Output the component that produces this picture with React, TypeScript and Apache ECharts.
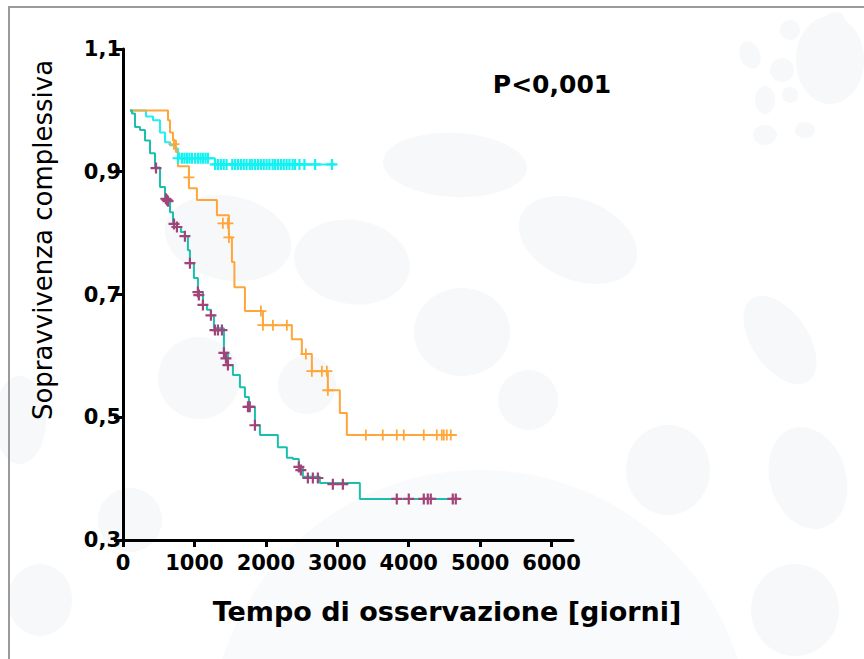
import React, { useEffect, useRef } from "react";
import * as echarts from "echarts";

// Tick labels
const xTicks = [0, 1000, 2000, 3000, 4000, 5000, 6000];
const yTicks = [0.3, 0.5, 0.7, 0.9, 1.1];

// Kaplan-Meier curves: [time (days), survival]
const cyanCurve = [
  [98, 1.0], [322, 0.99], [420, 0.984], [518, 0.964], [588, 0.948], [658, 0.943],
  [727, 0.938], [769, 0.93], [790, 0.922], [1287, 0.912], [2966, 0.912],
];
const orangeCurve = [
  [98, 1.0], [630, 0.984], [658, 0.964], [700, 0.951], [741, 0.932], [769, 0.909],
  [923, 0.873], [1035, 0.854], [1315, 0.829], [1483, 0.793], [1525, 0.753],
  [1560, 0.712], [1707, 0.673], [1959, 0.65], [2364, 0.627], [2504, 0.603],
  [2644, 0.575], [2868, 0.544], [3036, 0.507], [3134, 0.471], [4673, 0.471],
];
const tealCurve = [
  [98, 1.0], [126, 0.995], [168, 0.973], [238, 0.968], [308, 0.951], [378, 0.93],
  [448, 0.907], [518, 0.875], [588, 0.855], [658, 0.834], [700, 0.815], [755, 0.81],
  [811, 0.802], [867, 0.795], [909, 0.772], [937, 0.751], [993, 0.727], [1049, 0.704],
  [1119, 0.683], [1175, 0.675], [1231, 0.666], [1273, 0.645], [1413, 0.605],
  [1469, 0.585], [1539, 0.569], [1637, 0.549], [1707, 0.533], [1763, 0.517],
  [1847, 0.487], [1917, 0.471], [2168, 0.451], [2294, 0.434], [2378, 0.432],
  [2462, 0.419], [2518, 0.403], [2756, 0.393], [3316, 0.367], [4715, 0.367],
];

// Censored observations
const cyanCensorUpperTimes = [770, 825, 860, 895, 930, 965, 1010, 1049, 1085, 1119, 1155, 1189];
const cyanCensorUpperValue = 0.922;
const cyanCensorLowerTimes = [
  1290, 1330, 1370, 1410, 1450, 1530, 1570, 1610, 1650, 1690, 1730, 1775, 1810, 1850,
  1890, 1930, 1970, 2010, 2050, 2095, 2130, 2170, 2210, 2250, 2290, 2330, 2375, 2410,
  2470, 2540, 2690, 2925,
];
const cyanCensorLowerValue = 0.912;
const orangeCensor = [
  [713, 0.945], [923, 0.891], [1399, 0.816], [1469, 0.816], [1483, 0.793], [1931, 0.673],
  [1959, 0.65], [2099, 0.65], [2294, 0.65], [2560, 0.603], [2644, 0.575], [2784, 0.575],
  [2854, 0.575], [2868, 0.544], [3400, 0.471], [3637, 0.471], [3833, 0.471],
  [3931, 0.471], [4211, 0.471], [4393, 0.471], [4463, 0.471], [4491, 0.471],
  [4533, 0.471], [4589, 0.471],
];
const purpleCensor = [
  [462, 0.906], [600, 0.856], [616, 0.854], [630, 0.852], [714, 0.815], [755, 0.81],
  [867, 0.795], [937, 0.751], [1049, 0.704], [1062, 0.699], [1119, 0.683], [1231, 0.666],
  [1287, 0.642], [1329, 0.642], [1385, 0.642], [1413, 0.605], [1441, 0.596],
  [1469, 0.585], [1750, 0.517], [1775, 0.517], [1847, 0.487], [2462, 0.419],
  [2490, 0.414], [2588, 0.401], [2658, 0.401], [2728, 0.401], [2938, 0.391],
  [3078, 0.391], [3833, 0.367], [4001, 0.367], [4211, 0.367], [4267, 0.367],
  [4309, 0.367], [4617, 0.367], [4659, 0.367],
];

const FONT = "'DejaVu Sans', Verdana, sans-serif";
const PLUS_THICK = "path://M4,0H6V4H10V6H6V10H4V6H0V4H4Z";
const PLUS_THIN = "path://M4.2,0H5.8V4.2H10V5.8H5.8V10H4.2V5.8H0V4.2H4.2Z";

const bgFill = "#f7f8f9";
const bgEllipses = [
  { cx: 228, cy: 238, rx: 64, ry: 42, r: -0.2 },
  { cx: 352, cy: 262, rx: 58, ry: 42, r: -0.15 },
  { cx: 455, cy: 165, rx: 72, ry: 32, r: -0.05 },
  { cx: 578, cy: 240, rx: 62, ry: 40, r: -0.4 },
  { cx: 462, cy: 332, rx: 48, ry: 44, r: 0 },
  { cx: 199, cy: 378, rx: 41, ry: 41, r: 0 },
  { cx: 307, cy: 385, rx: 29, ry: 29, r: 0 },
  { cx: 528, cy: 400, rx: 30, ry: 30, r: 0 },
  { cx: 668, cy: 470, rx: 42, ry: 45, r: 0 },
  { cx: 130, cy: 520, rx: 32, ry: 32, r: 0 },
  { cx: 40, cy: 600, rx: 32, ry: 36, r: 0 },
  { cx: 780, cy: 340, rx: 28, ry: 50, r: 0.6 },
  { cx: 808, cy: 478, rx: 38, ry: 52, r: 0.3 },
  { cx: 795, cy: 610, rx: 44, ry: 46, r: 0 },
  { cx: 20, cy: 420, rx: 26, ry: 44, r: 0 },
  { cx: 830, cy: 60, rx: 34, ry: 44, r: 0 },
  { cx: 790, cy: 30, rx: 10, ry: 10, r: 0 },
  { cx: 808, cy: 55, rx: 9, ry: 8, r: 0 },
  { cx: 782, cy: 70, rx: 12, ry: 12, r: 0 },
  { cx: 765, cy: 100, rx: 10, ry: 14, r: 0 },
  { cx: 790, cy: 95, rx: 8, ry: 8, r: 0 },
  { cx: 750, cy: 55, rx: 10, ry: 14, r: 0.4 },
  { cx: 765, cy: 135, rx: 12, ry: 10, r: 0 },
  { cx: 805, cy: 130, rx: 10, ry: 8, r: 0 },
  { cx: 835, cy: 20, rx: 10, ry: 8, r: 0 },
];

export default function App() {
  const ref = useRef<HTMLDivElement>(null);

  useEffect(() => {
    if (!ref.current) return;
    const chart = echarts.init(ref.current, null, { renderer: "svg" });

    const graphics: any[] = bgEllipses.map((e) => ({
      type: "ellipse",
      z: -10,
      x: e.cx,
      y: e.cy,
      rotation: e.r,
      shape: { cx: 0, cy: 0, rx: e.rx, ry: e.ry },
      style: { fill: bgFill },
      silent: true,
    }));
    graphics.push({
      type: "circle",
      z: -11,
      shape: { cx: 480, cy: 740, r: 270 },
      style: { fill: "#f9fafb" },
      silent: true,
    });
    graphics.push({
      type: "rect",
      z: -5,
      shape: { x: 9, y: 7, width: 900, height: 700 },
      style: { fill: "none", stroke: "#9a9a9a", lineWidth: 2 },
      silent: true,
    });
    graphics.push({
      type: "text",
      x: 552,
      y: 84,
      style: {
        text: "P<0,001",
        font: `bold 25px ${FONT}`,
        fill: "#000",
        align: "center",
        verticalAlign: "middle",
      },
    });
    graphics.push({
      type: "text",
      x: 447,
      y: 611,
      style: {
        text: "Tempo di osservazione [giorni]",
        font: `bold 27px ${FONT}`,
        fill: "#000",
        align: "center",
        verticalAlign: "middle",
      },
    });
    graphics.push({
      type: "text",
      x: 43,
      y: 240,
      rotation: Math.PI / 2,
      style: {
        text: "Sopravvivenza complessiva",
        font: `26px ${FONT}`,
        fill: "#000",
        align: "center",
        verticalAlign: "middle",
      },
    });

    const lineSeries = (data: number[][], color: string, z: number) => ({
      type: "line",
      step: "end",
      data,
      showSymbol: false,
      symbol: "none",
      z,
      lineStyle: { color, width: 2 },
      silent: true,
    });
    const censorSeries = (data: number[][], color: string, size: number, sym: string, z: number) => ({
      type: "scatter",
      data,
      symbol: sym,
      symbolSize: size,
      z,
      itemStyle: { color, opacity: 1 },
      silent: true,
    });

    chart.setOption({
      animation: false,
      backgroundColor: "#ffffff",
      grid: { left: 123, top: 49, right: 291, bottom: 119, containLabel: false },
      xAxis: {
        type: "value",
        min: 0,
        max: 6300,
        splitLine: { show: false },
        axisLine: { show: true, onZero: false, lineStyle: { color: "#000", width: 3 } },
        axisTick: {
          show: true,
          customValues: xTicks,
          length: 7,
          lineStyle: { color: "#000", width: 3 },
        },
        axisLabel: {
          customValues: xTicks,
          margin: 12,
          color: "#000",
          fontFamily: FONT,
          fontWeight: "bold",
          fontSize: 21,
          formatter: (v: number) => String(Math.round(v)),
        },
      },
      yAxis: {
        type: "value",
        min: 0.3,
        max: 1.1,
        splitLine: { show: false },
        axisLine: { show: true, onZero: false, lineStyle: { color: "#000", width: 3 } },
        axisTick: {
          show: true,
          customValues: yTicks,
          length: 9,
          lineStyle: { color: "#000", width: 3 },
        },
        axisLabel: {
          customValues: yTicks,
          margin: 2,
          color: "#000",
          fontFamily: FONT,
          fontWeight: "bold",
          fontSize: 21,
          formatter: (v: number) => v.toFixed(1).replace(".", ","),
        },
      },
      graphic: graphics,
      series: [
        lineSeries(cyanCurve, "#1ff0f0", 3),
        lineSeries(orangeCurve, "#ffa63a", 4),
        lineSeries(tealCurve, "#1bbfae", 5),
        censorSeries(cyanCensorUpperTimes.map((t) => [t, cyanCensorUpperValue]), "#12f2f2", 11, PLUS_THICK, 6),
        censorSeries(cyanCensorLowerTimes.map((t) => [t, cyanCensorLowerValue]), "#12f2f2", 11, PLUS_THICK, 6),
        censorSeries(orangeCensor, "#ffa63a", 11, PLUS_THIN, 7),
        censorSeries(purpleCensor, "#a0447a", 11, PLUS_THICK, 8),
      ],
    });

    return () => chart.dispose();
  }, []);

  return (
    <div
      ref={ref}
      style={{ position: "fixed", left: 0, top: 0, width: 864, height: 659 }}
    />
  );
}
